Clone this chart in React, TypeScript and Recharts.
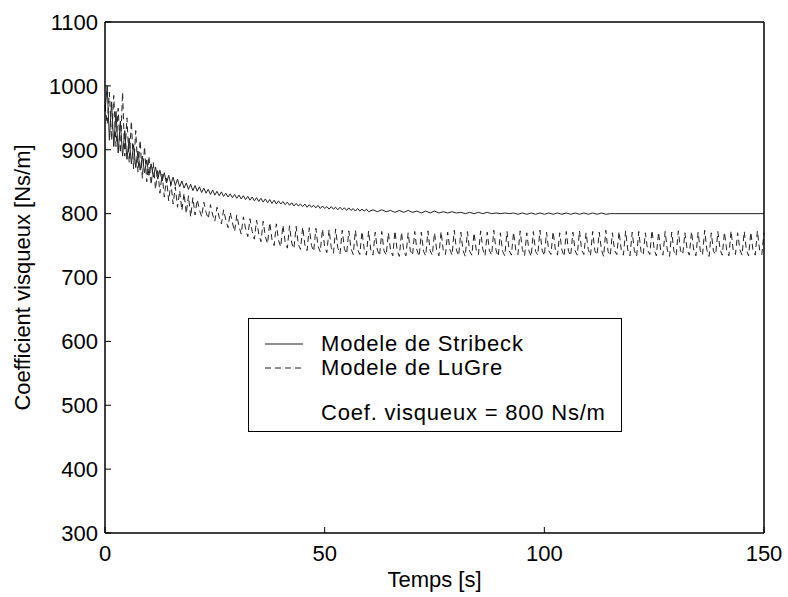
import React from 'react';
import { LineChart, Line, XAxis, YAxis, Legend } from 'recharts';

const X_TICKS = [0, 50, 100, 150];
const Y_TICKS = [300, 400, 500, 600, 700, 800, 900, 1000, 1100];
const SERIES_NAMES = ['Modele de Stribeck', 'Modele de LuGre'];
const NOTE = 'Coef. visqueux = 800 Ns/m';
const X_LABEL = 'Temps [s]';
const Y_LABEL = 'Coefficient visqueux [Ns/m]';

// Stribeck, t = 0 .. 60 s every 0.5 s
const STRIBECK_A = [
  960, 1000, 915, 975, 905, 960, 895, 945, 890, 930, 885, 918, 878, 908, 872, 898, 868, 890, 864, 884, 860,
  878, 857, 873, 854, 868, 851, 864, 848, 860, 846, 857, 844, 854, 842, 851, 840, 848, 838, 846, 836,
  844, 835, 842, 833, 840, 832, 838, 830, 837, 829, 835, 828, 834, 827, 832, 826, 831, 825, 830, 824,
  829, 823, 828, 822, 827, 821, 826, 820, 825, 819, 824, 818, 823, 817, 822, 816, 821, 815, 820, 815,
  819, 814, 818, 813, 817, 812, 816, 812, 815, 811, 815, 810, 814, 810, 813, 809, 813, 808, 812, 808,
  811, 807, 811, 807, 810, 806, 810, 806, 809, 805, 809, 805, 808, 804, 808, 804, 807, 804, 807, 803,
];
// Stribeck, t = 61 .. 115 s every 1 s
const STRIBECK_B = [
  806, 803, 806, 803, 805, 802, 805, 802, 805, 802,
  804, 801, 804, 801, 804, 801, 803, 801, 803, 801,
  802, 800, 802, 800, 802, 800, 802, 800, 801, 800,
  801, 800, 801, 799, 801, 799, 801, 799, 801, 799,
  801, 799, 801, 799, 801, 799, 801, 799, 801, 799,
  801, 799, 801, 799, 800,
];
const STRIBECK_TAIL_T = [116, 150];
const STRIBECK_TAIL_V = [800, 800];

// LuGre, t = 0 .. 150 s every 0.5 s
const LUGRE = [
  970, 940, 990, 915, 985, 905, 965, 895, 990, 890, 950, 880, 945, 870, 930, 865, 915, 855, 905, 850, 890,
  845, 880, 838, 870, 832, 862, 826, 855, 820, 848, 815, 842, 810, 836, 805, 832, 800, 828, 795, 825,
  798, 822, 806, 795, 818, 802, 792, 814, 798, 788, 810, 794,
  784, 806, 790, 778, 802, 786, 772, 798, 780, 768, 795, 776,
  764, 792, 772, 760, 790, 768, 756, 788, 764, 753, 786, 760,
  750, 784, 758, 748, 782, 756, 746, 781, 754, 745, 780, 752,
  744, 779, 751, 742, 778, 750, 741, 777, 749, 740, 776, 748,
  739, 775, 747, 738, 776, 746, 737, 774, 745, 737, 773, 745,
  736, 774, 744, 736, 772, 744, 735, 773, 743, 735, 771, 743,
  734, 772, 742, 735, 770, 743, 734, 773, 742, 733, 771, 741,
  734, 770, 742, 735, 772, 743, 733, 771, 741, 734, 773, 742,
  735, 770, 743, 734, 772, 742, 736, 771, 744, 735, 774, 743,
  734, 771, 742, 733, 772, 741, 735, 770, 743, 736, 773, 744,
  734, 771, 742, 735, 774, 743, 733, 770, 741, 734, 772, 742,
  735, 771, 743, 736, 773, 744, 734, 770, 742, 733, 772, 741,
  735, 774, 743, 734, 771, 742, 736, 772, 744, 735, 770, 743,
  733, 772, 741, 734, 771, 742, 735, 773, 743, 736, 770, 744,
  734, 772, 742, 735, 771, 743, 733, 774, 741, 734, 770, 742,
  736, 772, 744, 735, 773, 743, 734, 771, 742, 733, 772, 741,
  735, 770, 743, 736, 774, 744, 734, 771, 742, 735, 772, 743,
  733, 771, 741, 734, 773, 742, 736, 770, 744, 735, 772, 743,
  734, 771, 742, 735, 774, 743, 733, 770, 741, 736, 772, 744,
  735, 771, 743, 734, 773, 742, 736, 770, 744, 735, 772, 743,
  734, 771, 742, 735, 773, 743, 736, 770,
];

const FONT = '"Liberation Sans", Arial, Helvetica, sans-serif';

const toPoints = (start: number, step: number, values: number[]) =>
  values.map((v, i) => ({ t: start + i * step, v }));

const stribeckData = [
  ...toPoints(0, 0.5, STRIBECK_A),
  ...toPoints(61, 1, STRIBECK_B),
  ...STRIBECK_TAIL_T.map((t, i) => ({ t, v: STRIBECK_TAIL_V[i] })),
];
const lugreData = toPoints(0, 0.5, LUGRE);

const noTick = () => <g />;

const legendText = {
  position: 'absolute' as const,
  whiteSpace: 'nowrap' as const,
  letterSpacing: '0.8px',
};

const renderLegend = () => (
  <div
    style={{
      position: 'relative',
      width: 374,
      height: 114,
      boxSizing: 'border-box',
      border: '1px solid #000',
      background: '#fff',
      fontFamily: FONT,
      fontSize: 22,
      lineHeight: '22px',
      color: '#000',
    }}
  >
    <svg width={60} height={60} style={{ position: 'absolute', left: 0, top: 0 }}>
      <line x1={16} x2={54} y1={25} y2={25} stroke="#222" strokeWidth={1} />
      <line x1={16} x2={54} y1={49} y2={49} stroke="#222" strokeWidth={1} strokeDasharray="6 4" />
    </svg>
    <span style={{ ...legendText, left: 72, top: 14 }}>{SERIES_NAMES[0]}</span>
    <span style={{ ...legendText, left: 72, top: 38 }}>{SERIES_NAMES[1]}</span>
    <span style={{ ...legendText, left: 72, top: 83 }}>{NOTE}</span>
  </div>
);

const axisText = { fill: '#000', fontSize: 22, fontFamily: FONT };
const frame = { stroke: '#000', strokeWidth: 1.5 };

export default function App() {
  return (
    <div style={{ position: 'absolute', left: 0, top: 0, width: 788, height: 597, background: '#fff' }}>
      <LineChart width={788} height={597} margin={{ top: 21, right: 23, bottom: 0, left: 0 }}>
        <XAxis
          xAxisId="b"
          dataKey="t"
          type="number"
          domain={[0, 150]}
          ticks={X_TICKS}
          height={64}
          tickSize={-6}
          tickMargin={18}
          tick={axisText}
          axisLine={frame}
          tickLine={{ stroke: '#000' }}
          label={{ value: X_LABEL, position: 'insideBottom', offset: 10, ...axisText }}
        />
        <XAxis
          xAxisId="t"
          orientation="top"
          dataKey="t"
          type="number"
          domain={[0, 150]}
          ticks={X_TICKS}
          height={1}
          tickSize={-6}
          tick={noTick}
          axisLine={frame}
          tickLine={{ stroke: '#000' }}
        />
        <YAxis
          yAxisId="l"
          type="number"
          domain={[300, 1100]}
          ticks={Y_TICKS}
          width={105}
          tickSize={-6}
          tickMargin={13}
          tick={axisText}
          axisLine={frame}
          tickLine={{ stroke: '#000' }}
          label={{
            value: Y_LABEL,
            angle: -90,
            position: 'insideLeft',
            offset: 22,
            ...axisText,
            style: { textAnchor: 'middle' },
          }}
        />
        <YAxis
          yAxisId="r"
          orientation="right"
          type="number"
          domain={[300, 1100]}
          ticks={Y_TICKS}
          width={1}
          tickSize={-6}
          tick={noTick}
          axisLine={frame}
          tickLine={{ stroke: '#000' }}
        />
        <Line
          xAxisId="b"
          yAxisId="l"
          data={stribeckData}
          dataKey="v"
          name={SERIES_NAMES[0]}
          type="linear"
          stroke="#222"
          strokeWidth={1}
          dot={false}
          isAnimationActive={false}
        />
        <Line
          xAxisId="b"
          yAxisId="l"
          data={lugreData}
          dataKey="v"
          name={SERIES_NAMES[1]}
          type="linear"
          stroke="#222"
          strokeWidth={1}
          strokeDasharray="6 4"
          dot={false}
          isAnimationActive={false}
        />
        <Legend
          content={renderLegend}
          layout="vertical"
          align="center"
          verticalAlign="middle"
          wrapperStyle={{ left: 248, top: 318, width: 374, height: 114 }}
        />
      </LineChart>
    </div>
  );
}
